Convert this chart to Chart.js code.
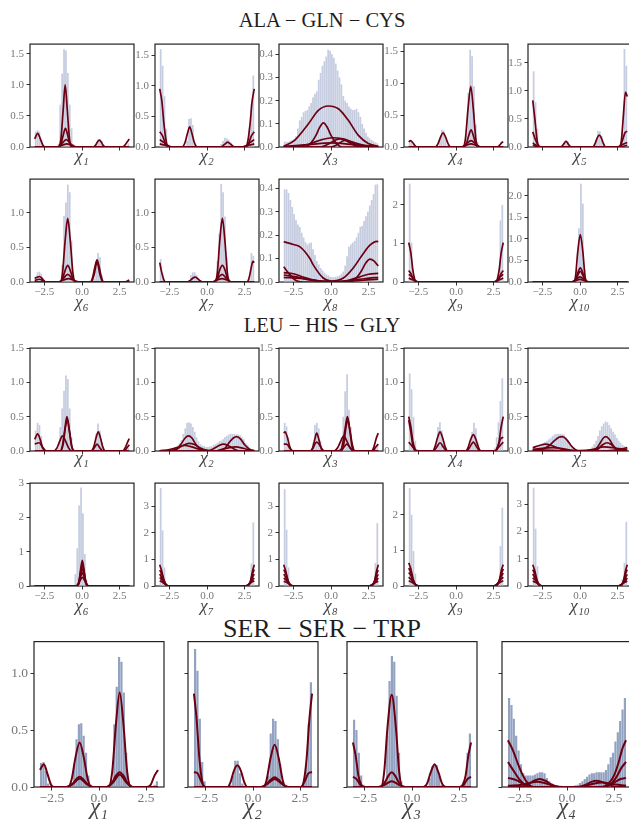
<!DOCTYPE html>
<html>
<head>
<meta charset="utf-8">
<script src="https://cdn.jsdelivr.net/npm/chart.js@4.4.1/dist/chart.umd.min.js"></script>
<style>
  body { margin: 0; width: 629px; height: 820px; overflow: hidden; background: #fff; position: relative; }
  canvas { position: absolute; }
  .title { position: absolute; left: 0; width: 644px; text-align: center; color: #1e1e1e; white-space: nowrap;
           font-family: 'Liberation Serif', 'DejaVu Serif', serif; line-height: 1; }
</style>
</head>
<body>
<div class="title" style="top:9.5px;font-size:20.5px">ALA − GLN − CYS</div>
<div class="title" style="top:314.5px;font-size:20.5px">LEU − HIS − GLY</div>
<div class="title" style="top:615.5px;font-size:26px">SER − SER − TRP</div>
<script>
// histograms: 50 bins over [-pi, pi], values are densities
const binCount = 50;

// ---------- ALA - GLN - CYS ----------
const alaHist1 = [0.25,0.27,0.25,0.12,0.03,0,0,0,0,0, 0,0,0.05,0.68,1.18,1.57,1.55,1.19,0.68,0.3, 0.05,0,0,0,0,0,0,0,0,0, 0,0,0.03,0.12,0.13,0.1,0.03,0,0,0, 0,0,0,0,0,0,0,0,0.02,0.06];
const alaFit1 = [
  [[-3.14,0.13],[-2.95,0.22],[-2.75,0.12],[-2.6,0.03],[-2.45,0],[-1.6,0],[-1.4,0.13],[-1.25,0.6],[-1.12,1.0],[-0.98,0.6],[-0.83,0.13],[-0.65,0],[0.75,0],[0.9,0.03],[1.02,0.08],[1.15,0.11],[1.28,0.08],[1.4,0.03],[1.55,0],[2.7,0],[2.85,0.03],[3.0,0.08],[3.14,0.13]],
  [[-3.14,0],[-1.55,0],[-1.4,0.05],[-1.25,0.19],[-1.1,0.3],[-0.95,0.19],[-0.8,0.05],[-0.65,0],[3.14,0]],
  [[-3.14,0],[-1.6,0],[-1.35,0.05],[-1.05,0.12],[-0.75,0.05],[-0.5,0],[3.14,0]],
  [[-3.14,0],[-1.7,0],[-1.3,0.03],[-1.0,0.05],[-0.7,0.03],[-0.3,0],[3.14,0]]
];
const alaHist2 = [1.6,1.33,0.83,0.3,0.05,0,0,0,0,0, 0,0,0,0,0.1,0.46,0.47,0.36,0.05,0, 0,0,0,0,0,0,0,0,0,0, 0,0,0.05,0.1,0.15,0.14,0.12,0.08,0.03,0, 0,0,0,0,0,0,0.05,0.32,0.7,1.17];
const alaFit2 = [
  [[-3.14,0.95],[-3.0,0.75],[-2.85,0.35],[-2.7,0.08],[-2.55,0],[-1.65,0],[-1.45,0.08],[-1.3,0.22],[-1.15,0.33],[-1.0,0.22],[-0.85,0.08],[-0.65,0],[0.95,0],[1.1,0.03],[1.25,0.06],[1.37,0.08],[1.5,0.06],[1.65,0.03],[1.85,0],[2.55,0],[2.7,0.08],[2.85,0.35],[3.0,0.75],[3.14,0.95]],
  [[-3.14,0.25],[-2.95,0.18],[-2.75,0.05],[-2.55,0],[2.55,0],[2.75,0.05],[2.95,0.18],[3.14,0.25]],
  [[-3.14,0.12],[-2.9,0.08],[-2.6,0.02],[-2.4,0],[2.4,0],[2.6,0.02],[2.9,0.08],[3.14,0.12]],
  [[-3.14,0.05],[-2.8,0.03],[-2.3,0],[2.3,0],[2.8,0.03],[3.14,0.05]]
];
const alaHist3 = [0.023,0.023,0.023,0.027,0.03,0.035,0.045,0.08,0.115,0.13, 0.15,0.155,0.16,0.175,0.19,0.215,0.23,0.24,0.29,0.32, 0.35,0.37,0.39,0.42,0.415,0.4,0.385,0.36,0.33,0.3, 0.27,0.22,0.2,0.19,0.175,0.165,0.16,0.16,0.165,0.15, 0.13,0.1,0.08,0.06,0.045,0.037,0.03,0.025,0.02,0.016];
const alaFit3 = [
  [[-3.14,0.003],[-2.4,0.03],[-1.5,0.1],[-0.84,0.158],[-0.18,0.177],[0.49,0.165],[1.15,0.115],[1.82,0.05],[2.48,0.015],[3.14,0.003]],
  [[-3.14,0],[-1.7,0],[-1.3,0.02],[-1.0,0.05],[-0.75,0.085],[-0.5,0.104],[-0.25,0.085],[0.0,0.05],[0.3,0.02],[0.7,0],[3.14,0]],
  [[-3.14,0],[-2.4,0.002],[-1.5,0.012],[-0.6,0.032],[0.1,0.04],[0.8,0.035],[1.5,0.02],[2.3,0.005],[3.14,0]],
  [[-3.14,0],[-0.8,0],[-0.2,0.012],[0.3,0.03],[0.6,0.035],[1.0,0.03],[1.5,0.015],[2.2,0.003],[3.14,0]],
  [[-3.14,0],[0.0,0],[0.4,0.01],[0.9,0.028],[1.4,0.012],[1.9,0],[3.14,0]],
  [[-3.14,0.003],[-1.5,0.01],[0,0.018],[1.5,0.01],[3.14,0.003]]
];
const alaHist4 = [0.1,0.1,0.05,0,0,0,0,0,0,0, 0,0,0,0,0,0,0.12,0.27,0.26,0.12, 0.03,0,0,0,0,0,0,0,0,0.03, 0.2,0.85,1.52,1.42,0.95,0.35,0.08,0,0,0, 0,0,0,0,0,0,0,0,0,0];
const alaFit4 = [
  [[-3.14,0.08],[-3.02,0.1],[-2.88,0.07],[-2.72,0.02],[-2.6,0],[-1.4,0],[-1.2,0.05],[-1.02,0.16],[-0.86,0.22],[-0.7,0.16],[-0.52,0.05],[-0.35,0],[0.45,0],[0.62,0.12],[0.8,0.6],[0.98,0.95],[1.15,0.6],[1.32,0.12],[1.5,0],[2.75,0],[2.9,0.03],[3.05,0.07],[3.14,0.08]],
  [[-3.14,0],[0.5,0],[0.7,0.06],[0.85,0.18],[1.0,0.27],[1.15,0.18],[1.3,0.06],[1.5,0],[3.14,0]],
  [[-3.14,0],[0.4,0],[0.7,0.05],[1.0,0.1],[1.3,0.05],[1.6,0],[3.14,0]],
  [[-3.14,0],[0.3,0],[0.65,0.025],[1.0,0.05],[1.35,0.025],[1.7,0],[3.14,0]]
];
const alaHist5 = [1.35,0.8,0.33,0.05,0,0,0,0,0,0, 0,0,0,0,0,0,0.07,0.12,0.1,0.04, 0,0,0,0,0,0,0,0,0,0, 0,0,0.02,0.12,0.29,0.28,0.2,0.05,0,0, 0,0,0,0,0,0,0.05,0.28,1.75,1.45];
const alaFit5 = [
  [[-3.14,0.83],[-3.0,0.5],[-2.85,0.12],[-2.7,0],[-1.3,0],[-1.12,0.04],[-0.93,0.1],[-0.75,0.04],[-0.6,0],[0.85,0],[1.0,0.06],[1.14,0.16],[1.28,0.21],[1.42,0.16],[1.56,0.06],[1.7,0],[2.6,0],[2.75,0.12],[2.88,0.55],[3.02,0.98],[3.14,0.9]],
  [[-3.14,0.27],[-2.95,0.12],[-2.75,0.02],[-2.6,0],[2.6,0],[2.8,0.1],[3.0,0.26],[3.14,0.28]],
  [[-3.14,0.07],[-2.9,0.03],[-2.6,0],[2.5,0],[2.8,0.04],[3.14,0.08]],
  [[-3.14,0.03],[-2.7,0],[2.6,0],[3.14,0.03]]
];
const alaHist6 = [0.08,0.14,0.15,0.12,0.05,0,0,0,0,0, 0,0,0,0,0.25,0.96,1.15,1.41,1.3,0.6, 0.1,0,0,0,0,0,0,0,0,0, 0,0.05,0.3,0.42,0.36,0.1,0,0,0,0, 0,0,0,0,0,0,0,0,0.02,0.03];
const alaFit6 = [
  [[-3.14,0.05],[-2.98,0.07],[-2.82,0.08],[-2.65,0.05],[-2.5,0.01],[-2.35,0],[-1.45,0],[-1.3,0.12],[-1.12,0.6],[-0.95,0.92],[-0.78,0.6],[-0.6,0.12],[-0.45,0],[0.55,0],[0.7,0.06],[0.85,0.21],[1.0,0.32],[1.15,0.21],[1.3,0.06],[1.45,0],[2.9,0],[3.05,0.02],[3.14,0.03]],
  [[-3.14,0],[-1.45,0],[-1.3,0.05],[-1.1,0.18],[-0.95,0.24],[-0.8,0.18],[-0.6,0.05],[-0.45,0],[3.14,0]],
  [[-3.14,0.02],[-2.85,0.04],[-2.5,0.01],[-2.3,0],[-1.5,0],[-1.25,0.05],[-0.95,0.11],[-0.65,0.05],[-0.4,0],[3.14,0]],
  [[-3.14,0],[-1.6,0],[-1.2,0.03],[-0.9,0.05],[-0.6,0.03],[-0.2,0],[0.6,0],[0.8,0.1],[1.0,0.29],[1.2,0.1],[1.4,0],[3.14,0]]
];
const alaHist7 = [0.33,0.12,0.02,0,0,0,0,0,0,0, 0,0,0,0,0,0.03,0.1,0.14,0.14,0.1, 0.04,0,0,0,0,0,0,0,0,0.05, 0.3,0.7,1.42,1.3,0.95,0.35,0.05,0,0,0, 0,0,0,0,0,0,0,0.05,0.42,0.38];
const alaFit7 = [
  [[-3.14,0.28],[-3.02,0.15],[-2.88,0.04],[-2.75,0],[-1.3,0],[-1.12,0.02],[-0.95,0.055],[-0.8,0.07],[-0.65,0.055],[-0.48,0.02],[-0.3,0],[0.5,0],[0.68,0.12],[0.85,0.6],[1.02,0.92],[1.19,0.6],[1.36,0.12],[1.55,0],[2.65,0],[2.8,0.06],[2.95,0.22],[3.05,0.3],[3.14,0.28]],
  [[-3.14,0],[0.5,0],[0.68,0.05],[0.85,0.18],[1.02,0.24],[1.19,0.18],[1.36,0.05],[1.55,0],[3.14,0]],
  [[-3.14,0],[0.4,0],[0.7,0.05],[1.0,0.11],[1.3,0.05],[1.6,0],[3.14,0]],
  [[-3.14,0],[0.3,0],[0.65,0.025],[1.0,0.05],[1.35,0.025],[1.7,0],[3.14,0]]
];
const alaHist8 = [0.395,0.395,0.38,0.35,0.32,0.29,0.265,0.245,0.235,0.21, 0.19,0.17,0.16,0.165,0.168,0.14,0.115,0.09,0.075,0.06, 0.05,0.04,0.032,0.028,0.022,0.02,0.02,0.022,0.024,0.028, 0.035,0.045,0.07,0.11,0.15,0.16,0.168,0.175,0.19,0.21, 0.235,0.24,0.26,0.28,0.3,0.326,0.35,0.375,0.415,0.417];
const alaFit8 = [
  [[-3.14,0.172],[-2.5,0.16],[-2.06,0.15],[-1.4,0.1],[-1.18,0.073],[-0.52,0.017],[0,0.004],[0.82,0.017],[1.48,0.06],[2.15,0.122],[2.59,0.157],[3.04,0.173],[3.14,0.172]],
  [[-3.14,0.065],[-2.85,0.04],[-2.5,0.015],[-2.2,0.003],[-1.8,0],[1.2,0],[1.6,0.012],[2.0,0.045],[2.3,0.08],[2.59,0.098],[2.85,0.09],[3.14,0.068]],
  [[-3.14,0.04],[-2.5,0.035],[-1.8,0.02],[-1.0,0.006],[0,0],[1.0,0.005],[1.8,0.02],[2.5,0.033],[3.14,0.037]],
  [[-3.14,0.03],[-2.3,0.022],[-1.5,0.01],[-0.5,0.002],[0.5,0],[1.5,0.008],[2.3,0.015],[3.14,0.02]],
  [[-3.14,0.02],[-2.0,0.015],[-0.8,0.005],[0.5,0.002],[1.8,0.006],[3.14,0.012]]
];
const alaHist9 = [2.55,1.02,0.15,0,0,0,0,0,0,0, 0,0,0,0,0,0,0,0,0,0, 0,0,0,0,0,0,0,0,0,0, 0,0,0,0,0,0,0,0,0,0, 0,0,0,0,0,0,0.05,0.2,1.6,2.0];
const alaFit9 = [
  [[-3.14,1.02],[-3.0,0.75],[-2.88,0.35],[-2.75,0.08],[-2.62,0],[2.62,0],[2.75,0.08],[2.88,0.35],[3.0,0.75],[3.14,1.02]],
  [[-3.14,0.3],[-3.0,0.22],[-2.85,0.1],[-2.7,0.02],[-2.55,0],[2.55,0],[2.7,0.02],[2.85,0.1],[3.0,0.22],[3.14,0.3]],
  [[-3.14,0.2],[-2.95,0.14],[-2.75,0.05],[-2.55,0],[2.55,0],[2.75,0.05],[2.95,0.14],[3.14,0.2]],
  [[-3.14,0.1],[-2.9,0.06],[-2.6,0.01],[-2.45,0],[2.45,0],[2.6,0.01],[2.9,0.06],[3.14,0.1]]
];
const alaHist10 = [0,0,0,0,0,0,0,0,0,0, 0,0,0,0,0,0,0,0,0,0, 0,0,0.05,0.3,1.25,2.28,1.82,0.3,0.05,0, 0,0,0,0,0,0,0,0,0,0, 0,0,0,0,0,0,0,0,0,0];
const alaFit10 = [
  [[-3.14,0],[-0.45,0],[-0.3,0.12],[-0.15,0.7],[0.02,1.1],[0.19,0.7],[0.34,0.12],[0.5,0],[3.14,0]],
  [[-3.14,0],[-0.45,0],[-0.28,0.06],[-0.13,0.23],[0.02,0.33],[0.17,0.23],[0.32,0.06],[0.5,0],[3.14,0]],
  [[-3.14,0],[-0.5,0],[-0.3,0.05],[-0.12,0.18],[0.02,0.25],[0.16,0.18],[0.34,0.05],[0.55,0],[3.14,0]],
  [[-3.14,0],[-0.55,0],[-0.3,0.05],[0.0,0.12],[0.3,0.05],[0.55,0],[3.14,0]],
  [[-3.14,0],[-0.6,0],[-0.3,0.03],[0,0.06],[0.3,0.03],[0.6,0],[3.14,0]]
];

// ---------- LEU - HIS - GLY ----------
const leuHist1 = [0.3,0.41,0.38,0.22,0.05,0,0,0,0,0, 0,0,0.05,0.35,0.62,0.88,1.1,1.05,0.62,0.2, 0.04,0,0,0,0,0,0,0,0,0, 0,0.05,0.25,0.4,0.3,0.12,0.03,0,0,0, 0,0,0,0,0,0,0,0,0.02,0.05];
const leuFit1 = [
  [[-3.14,0.17],[-2.95,0.25],[-2.78,0.17],[-2.62,0.05],[-2.45,0],[-1.45,0],[-1.3,0.08],[-1.15,0.3],[-1.0,0.5],[-0.85,0.3],[-0.7,0.08],[-0.55,0],[0.62,0],[0.78,0.06],[0.93,0.19],[1.08,0.28],[1.23,0.19],[1.38,0.06],[1.55,0],[2.7,0],[2.9,0.06],[3.05,0.14],[3.14,0.18]],
  [[-3.14,0.1],[-2.85,0.12],[-2.6,0.05],[-2.35,0],[-1.4,0],[-1.25,0.1],[-1.1,0.35],[-0.97,0.46],[-0.82,0.28],[-0.67,0.06],[-0.5,0],[2.8,0],[3.0,0.05],[3.14,0.09]],
  [[-3.14,0],[-1.9,0],[-1.65,0.05],[-1.45,0.16],[-1.3,0.22],[-1.12,0.16],[-0.9,0.05],[-0.7,0],[3.14,0]],
  [[-3.14,0],[0.6,0],[0.8,0.04],[1.0,0.1],[1.2,0.04],[1.4,0],[3.14,0]]
];
const leuHist2 = [0.01,0.01,0.01,0.015,0.015,0.02,0.025,0.04,0.06,0.08, 0.11,0.16,0.25,0.33,0.41,0.42,0.4,0.35,0.28,0.2, 0.14,0.1,0.08,0.07,0.06,0.06,0.065,0.07,0.09,0.1, 0.12,0.14,0.15,0.17,0.2,0.22,0.24,0.25,0.25,0.25, 0.24,0.24,0.23,0.2,0.17,0.12,0.09,0.05,0.03,0.02];
const leuFit2 = [
  [[-3.14,0],[-2.4,0],[-2.0,0.03],[-1.7,0.11],[-1.45,0.19],[-1.24,0.22],[-1.0,0.19],[-0.75,0.1],[-0.45,0.03],[-0.2,0],[0.9,0],[1.2,0.04],[1.5,0.13],[1.75,0.19],[1.97,0.21],[2.25,0.17],[2.5,0.09],[2.8,0.03],[3.14,0]],
  [[-3.14,0],[-2.5,0.005],[-2.0,0.03],[-1.6,0.08],[-1.2,0.11],[-0.8,0.09],[-0.4,0.04],[0,0.01],[0.4,0],[3.14,0]],
  [[-3.14,0],[0.0,0],[0.4,0.03],[0.8,0.08],[1.1,0.1],[1.4,0.08],[1.8,0.03],[2.2,0],[3.14,0]],
  [[-3.14,0.003],[-2.5,0.02],[-2.0,0.05],[-1.5,0.08],[-1.0,0.06],[-0.5,0.025],[0,0.005],[3.14,0]],
  [[-3.14,0],[0.5,0],[1.0,0.025],[1.5,0.05],[1.9,0.06],[2.4,0.04],[2.9,0.01],[3.14,0.005]]
];
const leuHist3 = [0.41,0.36,0.2,0.06,0,0,0,0,0,0, 0,0,0,0,0,0.12,0.38,0.41,0.33,0.15, 0.03,0,0,0,0,0,0,0,0,0.05, 0.2,0.5,0.87,1.12,0.6,0.35,0.08,0,0,0, 0,0,0,0,0,0,0,0,0.05,0.1];
const leuFit3 = [
  [[-3.14,0.26],[-3.05,0.28],[-2.9,0.2],[-2.75,0.07],[-2.6,0],[-1.35,0],[-1.2,0.06],[-1.07,0.18],[-0.95,0.26],[-0.82,0.18],[-0.68,0.06],[-0.55,0],[0.6,0],[0.75,0.08],[0.92,0.3],[1.09,0.5],[1.26,0.3],[1.43,0.08],[1.6,0],[2.7,0],[2.85,0.06],[3.0,0.18],[3.14,0.26]],
  [[-3.14,0.1],[-2.95,0.1],[-2.7,0.03],[-2.5,0],[-1.4,0],[-1.2,0.04],[-1.05,0.11],[-0.95,0.13],[-0.8,0.1],[-0.6,0.03],[-0.45,0],[0.7,0],[0.85,0.1],[1.0,0.35],[1.12,0.45],[1.25,0.3],[1.4,0.06],[1.55,0],[2.75,0],[2.95,0.05],[3.14,0.1]],
  [[-3.14,0],[0.2,0],[0.45,0.05],[0.68,0.16],[0.85,0.22],[1.02,0.16],[1.25,0.05],[1.5,0],[3.14,0]],
  [[-3.14,0],[0.5,0],[0.8,0.04],[1.05,0.1],[1.3,0.04],[1.6,0],[3.14,0]]
];
const leuHist4 = [1.13,0.9,0.5,0.15,0.03,0,0,0,0,0, 0,0,0,0.03,0.12,0.35,0.42,0.3,0.1,0.02, 0,0,0,0,0,0,0,0,0,0, 0,0,0.05,0.28,0.41,0.33,0.12,0.03,0,0, 0,0,0,0,0,0.05,0.2,0.42,0.73,1.06];
const leuFit4 = [
  [[-3.14,0.5],[-3.0,0.35],[-2.85,0.12],[-2.7,0.02],[-2.55,0],[-1.55,0],[-1.4,0.06],[-1.22,0.2],[-1.06,0.28],[-0.9,0.2],[-0.72,0.06],[-0.55,0],[0.65,0],[0.8,0.05],[0.98,0.17],[1.15,0.24],[1.32,0.17],[1.5,0.05],[1.65,0],[2.55,0],[2.7,0.02],[2.85,0.12],[3.0,0.35],[3.14,0.5]],
  [[-3.14,0.45],[-3.02,0.3],[-2.88,0.1],[-2.72,0],[2.6,0],[2.8,0.08],[2.98,0.18],[3.14,0.2]],
  [[-3.14,0.13],[-2.95,0.08],[-2.7,0.01],[-2.5,0],[-1.5,0],[-1.3,0.05],[-1.06,0.12],[-0.82,0.05],[-0.6,0],[0.7,0],[0.9,0.05],[1.15,0.13],[1.4,0.05],[1.6,0],[2.6,0],[2.85,0.06],[3.14,0.13]]
];
const leuHist5 = [0.05,0.06,0.07,0.08,0.09,0.11,0.13,0.15,0.17,0.19, 0.22,0.24,0.25,0.25,0.25,0.245,0.24,0.2,0.16,0.12, 0.08,0.05,0.02,0.01,0.005,0.005,0.005,0.01,0.01,0.02, 0.03,0.06,0.1,0.15,0.22,0.3,0.36,0.4,0.43,0.42, 0.38,0.33,0.28,0.24,0.19,0.15,0.12,0.09,0.07,0.06];
const leuFit5 = [
  [[-3.14,0.005],[-2.6,0.02],[-2.1,0.07],[-1.7,0.15],[-1.4,0.2],[-1.17,0.21],[-0.9,0.17],[-0.6,0.08],[-0.3,0.02],[0,0],[0.8,0],[1.1,0.04],[1.35,0.12],[1.55,0.19],[1.73,0.21],[1.95,0.17],[2.2,0.08],[2.5,0.02],[2.8,0],[3.14,0]],
  [[-3.14,0.05],[-2.7,0.08],[-2.3,0.1],[-1.9,0.08],[-1.4,0.04],[-0.9,0.01],[-0.5,0],[1.5,0],[2.2,0.01],[2.8,0.03],[3.14,0.05]],
  [[-3.14,0],[0.9,0],[1.2,0.03],[1.5,0.09],[1.8,0.12],[2.1,0.09],[2.4,0.03],[2.7,0],[3.14,0]],
  [[-3.14,0.02],[-2.0,0.01],[-1.0,0.005],[0,0.005],[0.8,0.02],[1.6,0.06],[2.4,0.04],[3.14,0.02]],
  [[-3.14,0.02],[-2.5,0.04],[-1.8,0.05],[-1.1,0.03],[-0.4,0.005],[0.5,0],[3.14,0]]
];
const leuHist6 = [0,0,0,0,0,0,0,0,0,0, 0,0,0,0,0,0,0,0,0,0, 0,0.35,1.1,2.35,2.87,2.12,0.93,0.15,0,0, 0,0,0,0,0,0,0,0,0,0, 0,0,0,0,0,0,0,0,0,0];
const leuFit6 = [
  [[-3.14,0],[-0.32,0],[-0.2,0.1],[-0.1,0.45],[0.02,0.75],[0.14,0.45],[0.25,0.1],[0.36,0],[3.14,0]],
  [[-3.14,0],[-0.35,0],[-0.22,0.1],[-0.1,0.4],[0.02,0.62],[0.14,0.4],[0.27,0.1],[0.4,0],[3.14,0]],
  [[-3.14,0],[-0.38,0],[-0.22,0.08],[-0.1,0.32],[0.02,0.5],[0.14,0.32],[0.28,0.08],[0.42,0],[3.14,0]],
  [[-3.14,0],[-0.4,0],[-0.25,0.06],[-0.1,0.26],[0.02,0.38],[0.15,0.26],[0.3,0.06],[0.45,0],[3.14,0]],
  [[-3.14,0],[-0.45,0],[-0.25,0.05],[-0.1,0.18],[0.02,0.25],[0.15,0.18],[0.3,0.05],[0.5,0],[3.14,0]]
];
const leuHist7 = [3.7,2.1,0.7,0.1,0,0,0,0,0,0, 0,0,0,0,0,0,0,0,0,0, 0,0,0,0,0,0,0,0,0,0, 0,0,0,0,0,0,0,0,0,0, 0,0,0,0,0,0,0,0.1,0.85,2.4];
const leuFit7 = [
  [[-3.14,0.8],[-3.0,0.55],[-2.85,0.2],[-2.7,0.03],[-2.55,0],[2.62,0],[2.77,0.03],[2.9,0.2],[3.02,0.55],[3.14,0.8]],
  [[-3.14,0.6],[-3.0,0.45],[-2.85,0.2],[-2.7,0.04],[-2.55,0],[2.6,0],[2.75,0.04],[2.9,0.2],[3.02,0.45],[3.14,0.62]],
  [[-3.14,0.45],[-3.0,0.32],[-2.85,0.12],[-2.68,0.02],[-2.5,0],[2.55,0],[2.7,0.03],[2.88,0.14],[3.02,0.33],[3.14,0.45]],
  [[-3.14,0.32],[-2.98,0.22],[-2.8,0.08],[-2.62,0.01],[-2.45,0],[2.5,0],[2.68,0.02],[2.85,0.1],[3.0,0.22],[3.14,0.3]],
  [[-3.14,0.2],[-2.95,0.14],[-2.75,0.05],[-2.5,0],[2.5,0],[2.75,0.05],[2.95,0.14],[3.14,0.2]]
];
const leuHist8 = [3.65,2.12,0.7,0.1,0,0,0,0,0,0, 0,0,0,0,0,0,0,0,0,0, 0,0,0,0,0,0,0,0,0,0, 0,0,0,0,0,0,0,0,0,0, 0,0,0,0,0,0,0,0.05,0.87,2.37];
const leuFit8 = [
  [[-3.14,0.8],[-3.0,0.55],[-2.85,0.2],[-2.7,0.03],[-2.55,0],[2.62,0],[2.77,0.03],[2.9,0.2],[3.02,0.55],[3.14,0.8]],
  [[-3.14,0.62],[-3.0,0.45],[-2.85,0.18],[-2.7,0.03],[-2.55,0],[2.6,0],[2.75,0.04],[2.9,0.2],[3.02,0.45],[3.14,0.6]],
  [[-3.14,0.45],[-2.98,0.3],[-2.8,0.1],[-2.62,0.01],[-2.45,0],[2.55,0],[2.7,0.03],[2.88,0.14],[3.02,0.32],[3.14,0.44]],
  [[-3.14,0.3],[-2.95,0.2],[-2.75,0.06],[-2.55,0],[2.5,0],[2.7,0.03],[2.9,0.12],[3.14,0.3]],
  [[-3.14,0.18],[-2.9,0.12],[-2.65,0.03],[-2.4,0],[2.45,0],[2.7,0.04],[2.92,0.12],[3.14,0.18]]
];
const leuHist9 = [2.75,2.0,0.98,0.35,0.05,0,0,0,0,0, 0,0,0,0,0,0,0,0,0,0, 0,0,0,0,0,0,0,0,0,0, 0,0,0,0,0,0,0,0,0,0, 0,0,0,0,0,0,0,0.1,1.12,2.2];
const leuFit9 = [
  [[-3.14,0.65],[-3.0,0.48],[-2.85,0.2],[-2.7,0.04],[-2.55,0],[2.6,0],[2.75,0.04],[2.9,0.2],[3.02,0.45],[3.14,0.6]],
  [[-3.14,0.5],[-3.0,0.38],[-2.85,0.16],[-2.68,0.03],[-2.5,0],[2.55,0],[2.72,0.03],[2.88,0.15],[3.02,0.35],[3.14,0.48]],
  [[-3.14,0.38],[-2.98,0.28],[-2.8,0.1],[-2.62,0.01],[-2.45,0],[2.5,0],[2.68,0.02],[2.85,0.1],[3.0,0.26],[3.14,0.36]],
  [[-3.14,0.25],[-2.95,0.17],[-2.75,0.06],[-2.55,0],[2.55,0],[2.75,0.06],[2.95,0.17],[3.14,0.25]],
  [[-3.14,0.15],[-2.9,0.1],[-2.65,0.03],[-2.4,0],[2.4,0],[2.65,0.03],[2.9,0.1],[3.14,0.15]]
];
const leuHist10 = [3.6,2.1,0.72,0.1,0,0,0,0,0,0, 0,0,0,0,0,0,0,0,0,0, 0,0,0,0,0,0,0,0,0,0, 0,0,0,0,0,0,0,0,0,0, 0,0,0,0,0,0,0,0.25,0.85,2.35];
const leuFit10 = [
  [[-3.14,0.78],[-3.0,0.55],[-2.85,0.2],[-2.7,0.03],[-2.55,0],[2.62,0],[2.77,0.03],[2.9,0.2],[3.02,0.55],[3.14,0.78]],
  [[-3.14,0.6],[-3.0,0.44],[-2.85,0.18],[-2.7,0.03],[-2.55,0],[2.6,0],[2.75,0.04],[2.9,0.2],[3.02,0.44],[3.14,0.6]],
  [[-3.14,0.44],[-2.98,0.3],[-2.8,0.1],[-2.62,0.01],[-2.45,0],[2.55,0],[2.7,0.03],[2.88,0.13],[3.02,0.3],[3.14,0.43]],
  [[-3.14,0.3],[-2.95,0.2],[-2.75,0.06],[-2.55,0],[2.5,0],[2.7,0.03],[2.9,0.12],[3.14,0.29]],
  [[-3.14,0.18],[-2.9,0.12],[-2.65,0.03],[-2.4,0],[2.45,0],[2.7,0.04],[2.92,0.12],[3.14,0.18]]
];

// ---------- SER - SER - TRP ----------
const serHist1 = [0.21,0.22,0.14,0.03,0,0,0,0,0,0, 0,0,0,0.03,0.2,0.42,0.55,0.56,0.45,0.3, 0.1,0.02,0,0,0,0,0,0,0,0, 0.05,0.55,0.88,1.14,1.1,0.83,0.3,0.05,0,0, 0,0,0,0,0,0,0,0,0.02,0.05];
const serFit1 = [
  [[-3.14,0.15],[-2.93,0.2],[-2.75,0.12],[-2.55,0.02],[-2.4,0],[-1.65,0],[-1.45,0.07],[-1.25,0.26],[-1.03,0.39],[-0.81,0.26],[-0.6,0.07],[-0.4,0],[0.5,0],[0.7,0.13],[0.9,0.55],[1.1,0.83],[1.3,0.55],[1.5,0.13],[1.7,0],[2.55,0],[2.75,0.02],[2.95,0.1],[3.14,0.15]],
  [[-3.14,0],[-1.7,0],[-1.4,0.03],[-1.2,0.07],[-1.03,0.09],[-0.85,0.07],[-0.65,0.03],[-0.35,0],[0.4,0],[0.7,0.04],[0.9,0.1],[1.1,0.13],[1.3,0.1],[1.5,0.04],[1.8,0],[3.14,0]],
  [[-3.14,0],[-1.75,0],[-1.4,0.025],[-1.03,0.075],[-0.65,0.025],[-0.3,0],[0.4,0],[0.75,0.04],[1.1,0.11],[1.45,0.04],[1.8,0],[3.14,0]]
];
const serHist2 = [1.21,1.02,0.6,0.22,0.05,0,0,0,0,0, 0,0,0,0,0,0.02,0.1,0.23,0.23,0.12, 0.03,0,0,0,0,0,0,0,0,0, 0,0.1,0.47,0.6,0.58,0.42,0.2,0.05,0,0, 0,0,0,0,0,0,0.03,0.2,0.55,0.92];
const serFit2 = [
  [[-3.14,0.82],[-3.0,0.6],[-2.85,0.25],[-2.7,0.05],[-2.55,0],[-1.35,0],[-1.2,0.04],[-1.02,0.14],[-0.83,0.19],[-0.64,0.14],[-0.46,0.04],[-0.3,0],[0.55,0],[0.72,0.06],[0.93,0.25],[1.15,0.37],[1.37,0.25],[1.58,0.06],[1.75,0],[2.55,0],[2.7,0.05],[2.85,0.25],[3.0,0.6],[3.14,0.82]],
  [[-3.14,0.13],[-2.95,0.12],[-2.75,0.05],[-2.55,0],[0.5,0],[0.75,0.03],[0.95,0.065],[1.15,0.085],[1.35,0.065],[1.55,0.03],[1.8,0],[2.55,0],[2.75,0.05],[2.95,0.12],[3.14,0.13]],
  [[-3.14,0],[0.4,0],[0.75,0.025],[1.15,0.07],[1.55,0.025],[1.9,0],[3.14,0]]
];
const serHist3 = [0.59,0.5,0.3,0.1,0.02,0,0,0,0,0, 0,0,0,0.05,0.45,0.93,1.15,1.1,0.8,0.3, 0.05,0,0,0,0,0,0,0,0,0, 0,0,0.08,0.18,0.2,0.19,0.1,0.02,0,0, 0,0,0,0,0,0,0,0.05,0.3,0.47];
const serFit3 = [
  [[-3.14,0.39],[-3.0,0.28],[-2.85,0.1],[-2.7,0.02],[-2.55,0],[-1.65,0],[-1.48,0.13],[-1.3,0.53],[-1.08,0.81],[-0.86,0.53],[-0.68,0.13],[-0.5,0],[0.6,0],[0.8,0.03],[1.0,0.13],[1.2,0.2],[1.4,0.13],[1.6,0.03],[1.8,0],[2.55,0],[2.7,0.02],[2.85,0.1],[3.0,0.28],[3.14,0.39]],
  [[-3.14,0.09],[-2.95,0.07],[-2.75,0.02],[-2.55,0],[-1.7,0],[-1.45,0.04],[-1.25,0.1],[-1.08,0.13],[-0.9,0.1],[-0.7,0.04],[-0.45,0],[2.55,0],[2.75,0.02],[2.95,0.07],[3.14,0.09]],
  [[-3.14,0],[-1.8,0],[-1.45,0.02],[-1.08,0.05],[-0.7,0.02],[-0.35,0],[3.14,0]]
];
const serHist4 = [0.78,0.72,0.6,0.45,0.32,0.2,0.12,0.1,0.1,0.1, 0.1,0.11,0.12,0.13,0.13,0.12,0.08,0.05,0.03,0.015, 0.008,0.005,0.005,0.004,0.004,0.004,0.005,0.008,0.015,0.02, 0.035,0.05,0.07,0.09,0.11,0.12,0.12,0.13,0.13,0.13, 0.13,0.15,0.2,0.26,0.3,0.4,0.48,0.58,0.68,0.78];
const serFit4 = [
  [[-3.14,0.41],[-2.87,0.32],[-2.6,0.2],[-2.34,0.1],[-2.07,0.03],[-1.8,0],[1.9,0],[2.2,0.03],[2.5,0.1],[2.75,0.22],[2.95,0.34],[3.14,0.41]],
  [[-3.14,0.22],[-2.87,0.15],[-2.5,0.06],[-2.15,0.01],[-1.9,0],[2.0,0],[2.3,0.02],[2.6,0.08],[2.9,0.17],[3.14,0.22]],
  [[-3.14,0.08],[-2.7,0.06],[-2.3,0.025],[-2.0,0.005],[-1.7,0],[1.7,0],[2.1,0.01],[2.5,0.04],[2.85,0.07],[3.14,0.08]],
  [[-3.14,0],[-2.5,0],[-2.1,0.02],[-1.75,0.055],[-1.45,0.07],[-1.15,0.055],[-0.8,0.02],[-0.4,0],[0.6,0],[1.0,0.02],[1.3,0.045],[1.55,0.055],[1.85,0.045],[2.2,0.02],[2.6,0],[3.14,0]],
  [[-3.14,0.01],[-2.4,0.02],[-1.9,0.04],[-1.6,0.045],[-1.2,0.035],[-0.7,0.01],[-0.2,0],[0.6,0],[1.2,0.02],[1.85,0.04],[2.5,0.025],[3.14,0.01]]
];

const subDigits = ['₁','₂','₃','₄','₅','₆','₇','₈','₉','₁₀'];
const alaYMax = [1.654, 1.683, 0.444, 1.61, 1.835, 1.49, 1.49, 0.439, 2.67, 2.39];
const alaYStep = [0.5, 0.5, 0.1, 0.5, 0.5, 0.5, 0.5, 0.1, 1, 0.5];
const leuYMax = [1.5, 1.5, 1.5, 1.5, 1.5, 3.0, 3.88, 3.88, 2.89, 3.77];
const leuYStep = [0.5, 0.5, 0.5, 0.5, 0.5, 1, 1, 1, 1, 1];
const serYMax = 1.276;

const alaHists = [alaHist1, alaHist2, alaHist3, alaHist4, alaHist5, alaHist6, alaHist7, alaHist8, alaHist9, alaHist10];
const alaFits = [alaFit1, alaFit2, alaFit3, alaFit4, alaFit5, alaFit6, alaFit7, alaFit8, alaFit9, alaFit10];
const leuHists = [leuHist1, leuHist2, leuHist3, leuHist4, leuHist5, leuHist6, leuHist7, leuHist8, leuHist9, leuHist10];
const leuFits = [leuFit1, leuFit2, leuFit3, leuFit4, leuFit5, leuFit6, leuFit7, leuFit8, leuFit9, leuFit10];
const serHists = [serHist1, serHist2, serHist3, serHist4];
const serFits = [serFit1, serFit2, serFit3, serFit4];

// ---------- layout ----------
const rowTops = [43, 178, 347, 482, 639];
const smallLefts = [30, 155, 279, 404, 528];
const bigLefts = [34, 188, 347, 502];
const SERIF = "'Liberation Serif', 'DejaVu Serif', serif";
const YW = 32, PAD = 8;

const framePlugin = {
  id: 'frame',
  beforeDatasetsDraw(chart) {
    const a = chart.chartArea, ctx = chart.ctx;
    ctx.save();
    ctx.strokeStyle = '#222';
    ctx.lineWidth = 1.2;
    ctx.strokeRect(a.left, a.top, a.right - a.left, a.bottom - a.top);
    ctx.restore();
  }
};

function fmt(v, dec) {
  return v.toFixed(dec).replace('-', '\u2212');
}

function drawPanel(o) {
  const cv = document.createElement('canvas');
  const W = YW + o.w + PAD, H = PAD + o.h + o.xh;
  cv.width = W; cv.height = H;
  cv.style.left = (o.left - YW) + 'px';
  cv.style.top = (o.top - PAD) + 'px';
  document.body.appendChild(cv);

  const centers = o.hist.map((_, i) => -Math.PI + (i + 0.5) * 2 * Math.PI / binCount);
  const datasets = [{
    type: 'bar',
    data: o.hist.map((v, i) => ({x: centers[i], y: v})),
    backgroundColor: o.barColor,
    borderWidth: 0,
    barPercentage: 1,
    categoryPercentage: 0.93,
    order: 2
  }];
  o.fit.forEach(c => datasets.push({
    type: 'line',
    data: c.map(p => ({x: p[0], y: p[1]})),
    borderColor: 'rgb(108,0,18)',
    borderWidth: o.lw,
    pointRadius: 0,
    fill: false,
    tension: 0.4,
    cubicInterpolationMode: 'monotone',
    order: 1
  }));

  const dec = o.step < 1 ? 1 : 0;
  new Chart(cv, {
    type: 'bar',
    data: {datasets},
    options: {
      responsive: false,
      animation: false,
      events: [],
      layout: {padding: {top: PAD, right: PAD, left: 0, bottom: 0}},
      plugins: {legend: {display: false}, tooltip: {enabled: false}},
      scales: {
        x: {
          type: 'linear', offset: false,
          min: -1.1 * Math.PI, max: 1.1 * Math.PI,
          border: {display: false},
          grid: {display: true, drawOnChartArea: false, drawTicks: true, tickLength: 3.5, tickColor: '#333', offset: false},
          ticks: {stepSize: 2.5, includeBounds: false, padding: 0, color: '#777', maxRotation: 0,
                  font: {family: SERIF, size: o.tickSize},
                  callback: v => o.xLabels ? fmt(v, 1) : ''},
          title: {display: true, text: 'χ' + o.sub, color: '#444',
                  font: {family: SERIF, size: o.labelSize, style: 'italic'},
                  padding: {top: 0, bottom: o.titlePad}},
          afterFit: s => { s.height = o.xh; }
        },
        y: {
          min: 0, max: o.ymax,
          border: {display: false},
          grid: {display: true, drawOnChartArea: false, drawTicks: true, tickLength: 3.5, tickColor: '#333'},
          ticks: {stepSize: o.step, includeBounds: false, padding: 2.5, color: '#777',
                  font: {family: SERIF, size: o.tickSize},
                  callback: v => o.yLabels ? fmt(v, dec) : ''},
          afterFit: s => { s.width = YW; }
        }
      }
    },
    plugins: [framePlugin]
  });
}

for (let i = 0; i < 10; i++) {
  const r = Math.floor(i / 5), c = i % 5;
  drawPanel({left: smallLefts[c], top: rowTops[r], w: 104, h: 104, xh: 34,
    hist: alaHists[i], fit: alaFits[i], ymax: alaYMax[i], step: alaYStep[i], sub: subDigits[i],
    xLabels: r === 1, yLabels: true, tickSize: 11, labelSize: 17.5, lw: 1.7,
    titlePad: r === 1 ? 3.5 : 14.5, barColor: '#c6cde0'});
}
for (let i = 0; i < 10; i++) {
  const r = Math.floor(i / 5), c = i % 5;
  drawPanel({left: smallLefts[c], top: rowTops[2 + r], w: 104, h: 104, xh: 34,
    hist: leuHists[i], fit: leuFits[i], ymax: leuYMax[i], step: leuYStep[i], sub: subDigits[i],
    xLabels: r === 1, yLabels: true, tickSize: 11, labelSize: 17.5, lw: 1.7,
    titlePad: r === 1 ? 3.5 : 16, barColor: '#c6cde0'});
}
for (let i = 0; i < 4; i++) {
  drawPanel({left: bigLefts[i], top: rowTops[4], w: 130, h: 148, xh: 40,
    hist: serHists[i], fit: serFits[i], ymax: serYMax, step: 0.5, sub: subDigits[i],
    xLabels: true, yLabels: i === 0, tickSize: 13.5, labelSize: 23, lw: 2,
    titlePad: 5, barColor: '#93a2c1'});
}
</script>
</body>
</html>
